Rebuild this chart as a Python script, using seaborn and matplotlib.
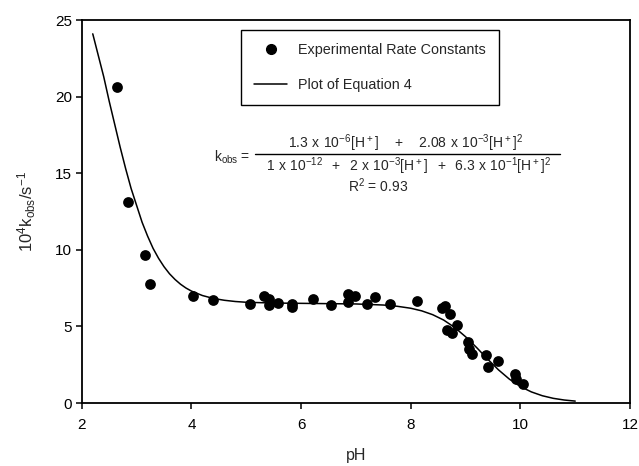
import matplotlib
matplotlib.use("Agg")
import matplotlib.pyplot as plt
from matplotlib.lines import Line2D
import seaborn as sns
import pandas as pd

# experimental rate constants (10^4 k_obs, s^-1)
ph_exp = [2.64, 2.85, 3.15, 3.25, 4.02, 4.39, 5.07, 5.33, 5.42, 5.41, 5.57,
          5.84, 5.84, 6.21, 6.55, 6.86, 6.98, 6.86, 7.21, 7.35, 7.62, 8.12,
          8.57, 8.63, 8.72, 8.84, 8.66, 8.75, 9.05, 9.07, 9.11, 9.37, 9.40,
          9.60, 9.90, 9.92, 10.05]
k_exp = [20.6, 13.1, 9.68, 7.79, 7.0, 6.76, 6.48, 6.98, 6.81, 6.37, 6.52,
         6.48, 6.26, 6.81, 6.37, 7.13, 6.96, 6.59, 6.48, 6.92, 6.44, 6.66,
         6.20, 6.31, 5.79, 5.07, 4.79, 4.57, 3.98, 3.55, 3.18, 3.11, 2.35,
         2.74, 1.87, 1.59, 1.22]

# fitted curve (Equation 4)
ph_fit = [2.2, 2.3, 2.4, 2.5, 2.6, 2.7, 2.8, 2.9, 3.0, 3.1, 3.2, 3.3, 3.4,
          3.5, 3.6, 3.7, 3.8, 3.9, 4.0, 4.2, 4.4, 4.6, 4.8, 5.0, 5.5, 6.0,
          6.5, 7.0, 7.5, 7.75, 8.0, 8.2, 8.4, 8.6, 8.8, 9.0, 9.2, 9.4, 9.6,
          9.8, 10.0, 10.2, 10.4, 10.6, 10.8, 11.0]
k_fit = [24.1, 22.7, 21.3, 19.7, 18.2, 16.7, 15.3, 14.0, 12.9, 11.8, 10.9,
         10.1, 9.45, 8.90, 8.44, 8.07, 7.76, 7.51, 7.31, 7.02, 6.83, 6.71,
         6.63, 6.58, 6.53, 6.51, 6.49, 6.47, 6.40, 6.32, 6.19, 6.02, 5.77,
         5.42, 4.94, 4.33, 3.63, 2.88, 2.17, 1.56, 1.08, 0.73, 0.48, 0.31,
         0.20, 0.13]

df_exp = pd.DataFrame({"pH": ph_exp, "k": k_exp})
df_fit = pd.DataFrame({"pH": ph_fit, "k": k_fit})

sns.set_theme(style="ticks")
plt.rcParams["font.family"] = ["Liberation Sans", "DejaVu Sans"]
plt.rcParams["mathtext.default"] = "regular"

fig = plt.figure(figsize=(6.39, 4.66), dpi=100)
ax = fig.add_axes([0.128, 0.135, 0.858, 0.822])

sns.scatterplot(data=df_exp, x="pH", y="k", color="black", s=60,
                edgecolor="black", linewidth=0, ax=ax, zorder=3)
sns.lineplot(data=df_fit, x="pH", y="k", color="black", linewidth=1.1,
             ax=ax, zorder=2)

ax.set_xlim(2, 12)
ax.set_ylim(0, 25)
ax.set_xticks([2, 4, 6, 8, 10, 12])
ax.set_yticks([0, 5, 10, 15, 20, 25])
for sp in ax.spines.values():
    sp.set_visible(True)
    sp.set_linewidth(1.3)
    sp.set_color("black")
ax.tick_params(axis="both", direction="out", length=4, width=1.1,
               labelsize=11, colors="black")
ax.tick_params(axis="x", pad=6.5)
ax.tick_params(axis="y", pad=3)
ax.set_xlabel("pH", fontsize=11.5, labelpad=12)
ax.set_ylabel(r"$10^4k_{obs}/s^{-1}$", fontsize=12, labelpad=12)

handles = [Line2D([], [], marker="o", color="black", linestyle="none", markersize=7),
           Line2D([], [], color="black", linewidth=1.1)]
ax.legend(handles, ["Experimental Rate Constants", "Plot of Equation 4"],
          loc="upper left", bbox_to_anchor=(241 / 639, 1 - 30 / 466),
          bbox_transform=fig.transFigure, fontsize=10.4, frameon=True,
          fancybox=False, edgecolor="black", framealpha=1, borderaxespad=0,
          labelspacing=1.45, handlelength=2.3, handletextpad=0.75,
          borderpad=0.9)
ax.get_legend().get_frame().set_linewidth(1.0)

# equation annotation
fs = 10
fig.text(250 / 639, 1 - 157 / 466, r"$k_{obs}$ =", ha="right", va="center", fontsize=fs)
fig.text(406 / 639, 1 - 143 / 466,
         r"$1.3\ x\ 10^{-6}[H^+]\quad+\quad2.08\ x\ 10^{-3}[H^+]^2$",
         ha="center", va="center", fontsize=fs)
fig.add_artist(Line2D([255 / 639, 560 / 639], [1 - 154 / 466, 1 - 154 / 466],
                      color="black", linewidth=1.0, transform=fig.transFigure))
fig.text(409 / 639, 1 - 166 / 466,
         r"$1\ x\ 10^{-12}\ \,+\ \,2\ x\ 10^{-3}[H^+]\ \,+\ \,6.3\ x\ 10^{-1}[H^+]^2$",
         ha="center", va="center", fontsize=fs)
fig.text(378 / 639, 1 - 186 / 466, r"$R^2$ = 0.93", ha="center", va="center",
         fontsize=fs)

fig.savefig("out.png", dpi=100)
